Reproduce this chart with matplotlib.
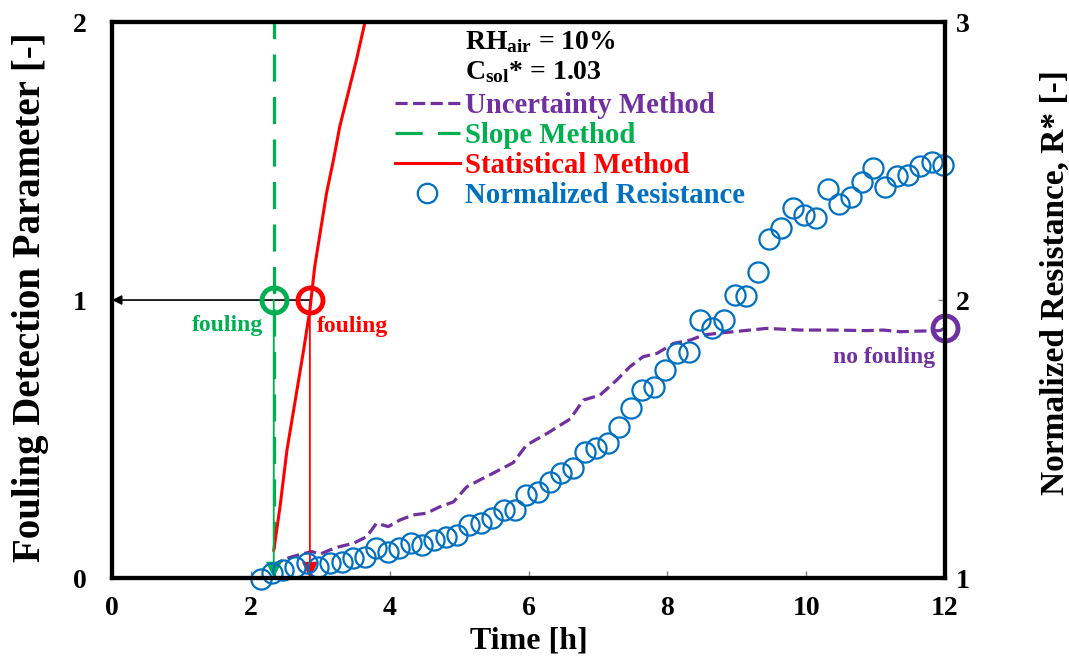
import matplotlib
matplotlib.use("Agg")
import matplotlib.pyplot as plt
from matplotlib.lines import Line2D

plt.rcParams['font.family'] = ['Liberation Serif', 'DejaVu Serif']
plt.rcParams['font.weight'] = 'bold'
plt.rcParams['axes.labelweight'] = 'bold'
plt.rcParams['mathtext.fontset'] = 'custom'
plt.rcParams['mathtext.rm'] = 'Liberation Serif:bold'
plt.rcParams['mathtext.bf'] = 'Liberation Serif:bold'
plt.rcParams['mathtext.it'] = 'Liberation Serif:bold'

PURPLE = '#7030A0'
GREEN = '#00B050'
RED = '#FF0000'
BLUE = '#0070C0'

# normalized resistance R* (right axis), sampled every 10 min
time_r = [2.14, 2.31, 2.47, 2.64, 2.81, 2.97, 3.14, 3.31, 3.47, 3.64,
          3.81, 3.97, 4.14, 4.31, 4.47, 4.64, 4.81, 4.97, 5.14, 5.31,
          5.47, 5.64, 5.81, 5.97, 6.14, 6.31, 6.47, 6.64, 6.81, 6.97,
          7.14, 7.31, 7.47, 7.64, 7.81, 7.97, 8.14, 8.31, 8.47, 8.64,
          8.81, 8.97, 9.14, 9.31, 9.47, 9.64, 9.81, 9.97, 10.14, 10.31,
          10.47, 10.64, 10.81, 10.97, 11.14, 11.31, 11.47, 11.64, 11.81, 11.97]
r_star = [0.995, 1.017, 1.029, 1.041, 1.053, 1.041, 1.053, 1.059, 1.071, 1.077,
          1.107, 1.095, 1.107, 1.125, 1.119, 1.137, 1.149, 1.155, 1.191, 1.197,
          1.215, 1.245, 1.245, 1.299, 1.310, 1.346, 1.377, 1.395, 1.454, 1.467,
          1.485, 1.544, 1.610, 1.676, 1.688, 1.748, 1.808, 1.814, 1.928, 1.898,
          1.928, 2.018, 2.014, 2.100, 2.218, 2.258, 2.330, 2.306, 2.294, 2.398,
          2.345, 2.369, 2.426, 2.474, 2.405, 2.446, 2.450, 2.482, 2.497, 2.486]

# uncertainty method detection parameter
time_unc = [2.30, 2.42, 2.56, 2.73, 2.88, 3.00, 3.14, 3.28, 3.48, 3.67,
            3.81, 3.98, 4.15, 4.34, 4.53, 4.72, 4.92, 5.11, 5.30, 5.49,
            5.78, 5.97, 6.28, 6.60, 6.79, 7.03, 7.27, 7.46, 7.65, 7.85,
            8.09, 8.33, 8.52, 8.71, 8.95, 9.43, 9.91, 10.39, 10.87, 11.11,
            11.35, 11.59, 11.93, 12.00]
fdp_unc = [0.043, 0.059, 0.074, 0.086, 0.095, 0.086, 0.101, 0.113, 0.125, 0.149,
           0.197, 0.185, 0.209, 0.227, 0.233, 0.256, 0.274, 0.328, 0.353, 0.377,
           0.415, 0.478, 0.522, 0.572, 0.640, 0.658, 0.712, 0.760, 0.796, 0.808,
           0.844, 0.856, 0.874, 0.880, 0.886, 0.898, 0.892, 0.892, 0.890, 0.892,
           0.886, 0.888, 0.890, 0.900]

# slope method
time_slope = [2.14, 2.33, 2.33]
fdp_slope = [0.0, 0.0, 3.0]

# statistical method
time_stat = [2.33, 2.42, 2.52, 2.64, 2.76, 2.85, 2.92, 3.09, 3.19, 3.28,
             3.40, 3.52, 3.64, 3.70]
fdp_stat = [0.10, 0.256, 0.460, 0.640, 0.820, 0.964, 1.12, 1.384, 1.504, 1.623,
            1.743, 1.863, 1.995, 2.15]

# detection points (time, parameter)
slope_hit = (2.33, 1.0)
stat_hit = (2.85, 1.0)
unc_end = (12.0, 0.90)

fig = plt.figure(figsize=(10.69, 6.68), dpi=100)
ax = fig.add_axes([0.1048, 0.1347, 0.7792, 0.8323])
ax2 = ax.twinx()

ax.plot(time_unc, fdp_unc, color=PURPLE, lw=2.3, dashes=(3.8, 1.7), zorder=3)
ax.plot(time_slope, fdp_slope, color=GREEN, lw=2.3, dashes=(8.5, 4.8), zorder=3)
ax.plot(time_stat, fdp_stat, color=RED, lw=2.2, zorder=3)

# arrows from the detection points
ax.annotate('', xy=(0, 1.0), xytext=stat_hit,
            arrowprops=dict(arrowstyle='-|>', color='black', lw=1.2,
                            mutation_scale=14, shrinkA=0, shrinkB=0), zorder=4)
ax.annotate('', xy=(slope_hit[0], 0), xytext=slope_hit,
            arrowprops=dict(arrowstyle='-|>', color=GREEN, lw=1.3,
                            mutation_scale=24, shrinkA=0, shrinkB=0), zorder=4)
ax.annotate('', xy=(stat_hit[0], 0), xytext=stat_hit,
            arrowprops=dict(arrowstyle='-|>', color=RED, lw=1.3,
                            mutation_scale=24, shrinkA=0, shrinkB=0), zorder=4)

ax.plot(*slope_hit, 'o', mfc='none', mec=GREEN, ms=18, mew=3.5, zorder=5)
ax.plot(*stat_hit, 'o', mfc='none', mec=RED, ms=18, mew=3.5, zorder=5)
ax.plot(*unc_end, 'o', mfc='none', mec=PURPLE, ms=18, mew=3.5, zorder=5, clip_on=False)

ax.text(2.18, 0.91, 'fouling', color=GREEN, fontsize=17, ha='right', va='center')
ax.text(2.95, 0.905, 'fouling', color=RED, fontsize=17, ha='left', va='center')
ax.text(11.86, 0.795, 'no fouling', color=PURPLE, fontsize=17, ha='right', va='center')

ax2.plot(time_r, r_star, 'o', mfc='none', mec=BLUE, ms=14.5, mew=1.6, clip_on=False)

ax.set_xlim(0, 12)
ax.set_ylim(0, 2)
ax2.set_ylim(1, 3)
ax.set_xticks([0, 2, 4, 6, 8, 10, 12])
ax.set_yticks([0, 1, 2])
ax2.set_yticks([1, 2, 3])

for a in (ax, ax2):
    for s in a.spines.values():
        s.set_linewidth(3)
        s.set_color('black')
    a.tick_params(direction='in', length=5, width=1, color='#808080', labelsize=20)
ax.tick_params(axis='y', pad=18)
ax.tick_params(axis='x', pad=13)
ax2.tick_params(axis='y', pad=8)

ax.set_xlabel('Time [h]', fontsize=23, labelpad=4)
ax.set_ylabel('Fouling Detection Parameter [-]', fontsize=28)
ax.yaxis.set_label_coords(-0.076, 0.505)
ax2.set_ylabel('Normalized Resistance, R* [-]', fontsize=24)
ax2.yaxis.set_label_coords(1.114, 0.531)

fig.text(465 / 1069, 1 - 42 / 668, r'$\mathbf{RH_{air}}$ = 10%', fontsize=20,
         ha='left', va='center')
fig.text(465 / 1069, 1 - 72 / 668, r'$\mathbf{C_{sol}}$* = 1.03', fontsize=20,
         ha='left', va='center')

handles = [
    Line2D([], [], color=PURPLE, lw=2.3, dashes=(3.8, 1.7)),
    Line2D([], [], color=GREEN, lw=2.3, dashes=(8.5, 4.8)),
    Line2D([], [], color=RED, lw=2.2),
    Line2D([], [], color=BLUE, ls='none', marker='o', mfc='none', ms=14, mew=1.6),
]
labels = ['Uncertainty Method', 'Slope Method', 'Statistical Method', 'Normalized Resistance']
ax2.legend(handles, labels, loc='upper left', bbox_to_anchor=(395 / 1069, 1 - 92 / 668),
           bbox_transform=fig.transFigure, frameon=False, borderpad=0, borderaxespad=0,
           handlelength=2.25, handletextpad=0.17, labelspacing=0.105, fontsize=20.7,
           labelcolor='linecolor', numpoints=1)

fig.savefig('out.png', dpi=100)
